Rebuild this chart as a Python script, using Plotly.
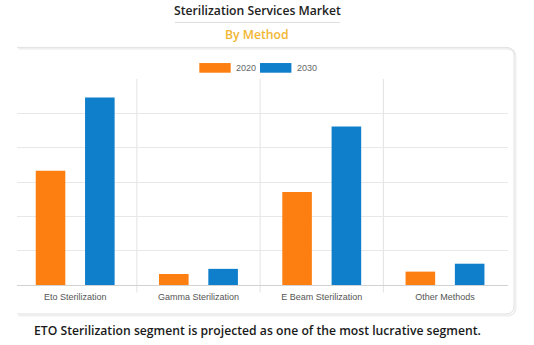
import plotly.graph_objects as go

# Market share by sterilization method (relative units)
methods = ["Eto Sterilization", "Gamma Sterilization", "E Beam Sterilization", "Other Methods"]
share_2020 = [3.33, 0.32, 2.71, 0.39]
share_2030 = [5.46, 0.47, 4.62, 0.62]
years = ["2020", "2030"]
colors = ["#fd7f12", "#0f7ecb"]

W, H = 534, 345
L, R, T, B = 17, 26, 79, 59.5
pw, ph = W - L - R, H - T - B


def px(x):
    """pixel x -> paper x"""
    return (x - L) / pw


def py(y):
    """pixel y (from top) -> paper y"""
    return (H - B - y) / ph


fig = go.Figure()
for year, vals, col in zip(years, [share_2020, share_2030], colors):
    fig.add_trace(go.Bar(x=methods, y=vals, name=year, marker_color=col,
                         marker_line_width=0, showlegend=False))

shapes = []

# card outline (rounded right corners, open on the left)
def card_path(dx, dy):
    x0, x1, y0, y1, r = 17 + dx, 514 + dx, 47.3 + dy, 314.5 + dy, 8
    return (f"M {px(x0)},{py(y0)} L {px(x1 - r)},{py(y0)} "
            f"Q {px(x1)},{py(y0)} {px(x1)},{py(y0 + r)} "
            f"L {px(x1)},{py(y1 - r)} Q {px(x1)},{py(y1)} {px(x1 - r)},{py(y1)} "
            f"L {px(x0)},{py(y1)}")

shapes.append(dict(type="path", xref="paper", yref="paper", path=card_path(1.5, 1.5),
                   line=dict(color="#efefef", width=2), layer="below"))
shapes.append(dict(type="path", xref="paper", yref="paper", path=card_path(0, 0),
                   line=dict(color="#e2e2e2", width=1), layer="below"))

# rule under the title
shapes.append(dict(type="line", xref="paper", yref="paper",
                   x0=px(175), x1=px(340), y0=py(22.3), y1=py(22.3),
                   line=dict(color="#dddddd", width=1)))

# category separators
for i in range(len(methods) - 1):
    shapes.append(dict(type="line", xref="x", yref="paper", x0=i + 0.5, x1=i + 0.5,
                       y0=py(293), y1=1, line=dict(color="#e3e3e3", width=1), layer="below"))

annotations = [
    dict(text="Sterilization Services Market", x=px(257.5), y=py(10.7),
         font=dict(family="Open Sans", size=12.2, color="#222222", weight=600)),
    dict(text="By Method", x=px(257), y=py(34),
         font=dict(family="Open Sans", size=12.2, color="#f2b632", weight=600)),
    dict(text="ETO Sterilization segment is projected as one of the most lucrative segment.",
         x=px(257.5), y=py(331),
         font=dict(family="Open Sans", size=12.2, color="#1a1a1a", weight=600)),
]

# legend swatches
leg_x = [199.3, 260]
for year, col, x0 in zip(years, colors, leg_x):
    shapes.append(dict(type="rect", xref="paper", yref="paper",
                       x0=px(x0), x1=px(x0 + 31.4), y0=py(72.7), y1=py(63),
                       fillcolor=col, line_width=0))
    annotations.append(dict(text=year, x=px(x0 + 34.5), y=py(67.8), xanchor="left",
                            font=dict(family="Liberation Sans, Arial", size=9, color="#666666")))

for a in annotations:
    a.setdefault("xanchor", "center")
    a.update(xref="paper", yref="paper", yanchor="middle", showarrow=False)

fig.update_layout(
    width=W, height=H,
    margin=dict(l=L, r=R, t=T, b=B, pad=0),
    paper_bgcolor="white", plot_bgcolor="white",
    barmode="group", bargap=0.2, bargroupgap=0.4,
    shapes=shapes, annotations=annotations,
    showlegend=False,
    xaxis=dict(type="category", range=[-0.472, 3.511], showgrid=False, ticks="",
               showline=True, linecolor="#d2d2d2", linewidth=1,
               tickfont=dict(family="Liberation Sans, Arial", size=9, color="#555555"),
               ticklabelstandoff=3, fixedrange=True),
    yaxis=dict(range=[0, 6], dtick=1, showgrid=True, gridcolor="#e8e8e8", gridwidth=1,
               showticklabels=False, zeroline=False, showline=False, ticks="", fixedrange=True),
)

fig.write_html("out.html")
